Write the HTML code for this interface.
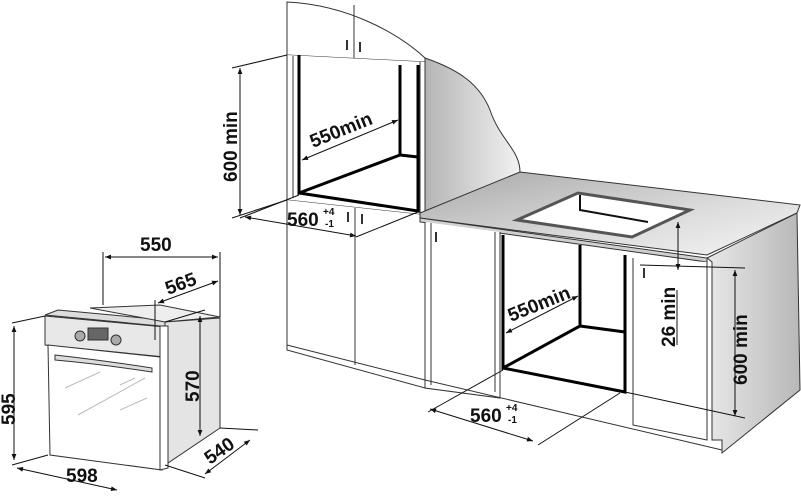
<!DOCTYPE html>
<html><head><meta charset="utf-8"><style>
html,body{margin:0;padding:0;background:#fff;}
svg{display:block;}
text{font-family:"Liberation Sans",Arial,sans-serif;font-weight:bold;fill:#111;}
</style></head><body>
<svg width="801" height="496" viewBox="0 0 801 496" xmlns="http://www.w3.org/2000/svg">
<defs>
<linearGradient id="g1" x1="0" y1="0" x2="1" y2="0"><stop offset="0" stop-color="#b5b5b5"/><stop offset="1" stop-color="#f2f2f2"/></linearGradient>
<linearGradient id="g2" x1="0" y1="0" x2="1" y2="1"><stop offset="0" stop-color="#a8a8a8"/><stop offset="0.6" stop-color="#dcdcdc"/><stop offset="1" stop-color="#f4f4f4"/></linearGradient>
<linearGradient id="g3" x1="0" y1="0" x2="1" y2="0"><stop offset="0" stop-color="#e8e8e8"/><stop offset="1" stop-color="#b8b8b8"/></linearGradient>
<marker id="a" viewBox="0 0 10 10" refX="10" refY="5" markerWidth="9" markerHeight="6" orient="auto-start-reverse"><path d="M0,1 L10,5 L0,9z" fill="#111"/></marker>
</defs>
<g stroke="#333" stroke-width="1" fill="none">
<path d="M425,58 C460,70 480,85 490,110 C500,140 520,150 520,172 L520,178 L425,215 Z" fill="url(#g1)"/>
<path d="M287,2 L287,55 L425,62 L425,58 C400,35 350,5 287,2 Z" fill="#fff"/>
<line x1="354" y1="5" x2="354" y2="58"/>
<path d="M347,40v10M360,42v10" stroke-width="2"/>
<path d="M287,55 L287,200 L425,215 L425,62" fill="#fff"/>
<line x1="293" y1="56" x2="293" y2="198"/>
<line x1="420" y1="62" x2="420" y2="213"/>
<path d="M287,200 L287,350 L425,388 L425,215" fill="#fff"/>
<line x1="355" y1="208" x2="355" y2="365"/>
<path d="M287,345 L425,380"/>
<path d="M348,212v10M362,214v10" stroke-width="2"/>
<g stroke="#000" stroke-width="3">
<path d="M299,55 L299,193 L400,155 L400,65"/>
<path d="M299,193 L418,211 L418,65"/>
<path d="M400,155 L418,157"/>
</g>
<path d="M420,213 L520,172 L800,205 L797,213 L707,255 L420,218 Z" fill="url(#g2)"/>
<path d="M420,218 L707,258 L707,262 L420,222 Z" fill="#d0d0d0"/>
<path d="M517,220 L578,193 L690,210 L632,237 Z" fill="#fff" stroke-width="3" stroke="#555"/>
<path d="M580,195 L580,210 L648,222" stroke="#111" stroke-width="2"/>
<path d="M707,258 L797,213 L800,390 L722,453 L722,440 L712,440 L712,262 Z" fill="url(#g3)"/>
<path d="M425,222 L425,388 L500,398 L500,232" fill="#fff"/>
<line x1="431" y1="223" x2="431" y2="385"/>
<path d="M436,232v10" stroke-width="2"/>
<path d="M425,380 L722,450"/>
<line x1="495" y1="232" x2="495" y2="392"/>
<g stroke="#000" stroke-width="3">
<path d="M503,235 L503,368 L580,326 L580,245"/>
<path d="M503,368 L625,392 L625,255"/>
<path d="M580,326 L625,332"/>
</g>
<path d="M633,258 L633,425 L707,440 L707,262" fill="#fff"/>
<path d="M644,268v10" stroke-width="2"/>
</g>
<g stroke="#111" stroke-width="1" fill="none">
<path d="M232,68 L287,55M232,218 L287,200"/>
<line x1="240" y1="68" x2="240" y2="215" marker-start="url(#a)" marker-end="url(#a)"/>
<line x1="302" y1="160" x2="398" y2="120" marker-start="url(#a)" marker-end="url(#a)"/>
<path d="M240,218 L299,195M356,237 L418,212"/>
<line x1="245" y1="217" x2="356" y2="236" marker-start="url(#a)" marker-end="url(#a)"/>
<line x1="506" y1="333" x2="578" y2="296" marker-start="url(#a)" marker-end="url(#a)"/>
<path d="M428,412 L503,370M538,445 L620,393"/>
<line x1="430" y1="409" x2="533" y2="441" marker-start="url(#a)" marker-end="url(#a)"/>
<line x1="678" y1="222" x2="678" y2="270" marker-end="url(#a)" marker-start="url(#a)"/>
<line x1="677" y1="290" x2="677" y2="345"/>
<path d="M640,265 L745,268M625,392 L745,418"/>
<line x1="735" y1="270" x2="735" y2="416" marker-start="url(#a)" marker-end="url(#a)"/>
</g>
<text x="0" y="0" font-size="19" transform="translate(237,182) rotate(-90)">600 min</text>
<text x="0" y="0" font-size="19" transform="translate(313,148) rotate(-22)">550min</text>
<text x="287" y="226" font-size="19">560</text><text x="323" y="215" font-size="10">+4</text><text x="325" y="227" font-size="10">-1</text>
<text x="0" y="0" font-size="19" transform="translate(511,322) rotate(-22)">550min</text>
<text x="470" y="422" font-size="19">560</text><text x="506" y="411" font-size="10">+4</text><text x="508" y="423" font-size="10">-1</text>
<text x="0" y="0" font-size="19" transform="translate(675,347) rotate(-90)">26 min</text>
<text x="0" y="0" font-size="19" transform="translate(747,385) rotate(-90)">600 min</text>
<g stroke="#333" stroke-width="1">
<path d="M45,315 L58,310 L165,320 L165,326 L160,326 Z" fill="#ddd"/>
<path d="M90,308 L160,305 L220,317 L165,322 Z" fill="#eee"/>
<path d="M45,316 L165,327 L165,357 L45,345 Z" fill="#e8e8e8"/>
<path d="M48,345 L160,357 L162,470 L50,455 Z" fill="#fff"/>
<path d="M165,322 L220,318 L220,428 L165,465 Z" fill="#e4e4e4"/>
<path d="M160,326 L168,326 L168,468 L160,470 Z" fill="#fff"/>
<path d="M55,355 Q100,360 152,368 L152,372 Q100,364 55,360 Z" fill="#ddd"/>
<rect x="88" y="328" width="20" height="12" fill="#666"/>
<circle cx="80" cy="336" r="5" fill="#aaa"/><circle cx="116" cy="340" r="5" fill="#aaa"/>
<path d="M65,388 L100,372M78,415 L145,378M120,385 L135,378M120,410 L147,398" stroke="#bbb"/>
</g>
<g stroke="#111" stroke-width="1" fill="none">
<path d="M103,305 L103,252M220,317 L220,252"/>
<line x1="105" y1="257" x2="218" y2="257" marker-start="url(#a)" marker-end="url(#a)"/>
<path d="M155,300 L155,340"/>
<line x1="158" y1="303" x2="218" y2="281" marker-start="url(#a)" marker-end="url(#a)"/>
<path d="M165,322 L205,310"/>
<line x1="200" y1="316" x2="200" y2="436" marker-start="url(#a)" marker-end="url(#a)"/>
<path d="M12,323 L45,316M12,465 L48,455"/>
<line x1="14" y1="326" x2="14" y2="460" marker-start="url(#a)" marker-end="url(#a)"/>
<line x1="17" y1="468" x2="117" y2="490" marker-start="url(#a)" marker-end="url(#a)"/>
<path d="M165,465 L205,478M220,428 L258,430"/>
<line x1="205" y1="474" x2="250" y2="440" marker-start="url(#a)" marker-end="url(#a)"/>
</g>
<text x="140" y="251" font-size="19">550</text>
<text x="0" y="0" font-size="19" transform="translate(168,295) rotate(-20)">565</text>
<text x="0" y="0" font-size="19" transform="translate(15,425) rotate(-90)">595</text>
<text x="0" y="0" font-size="19" transform="translate(199,402) rotate(-90)">570</text>
<text x="66" y="482" font-size="19">598</text>
<text x="0" y="0" font-size="19" transform="translate(210,465) rotate(-35)">540</text>
</svg>
</body></html>
